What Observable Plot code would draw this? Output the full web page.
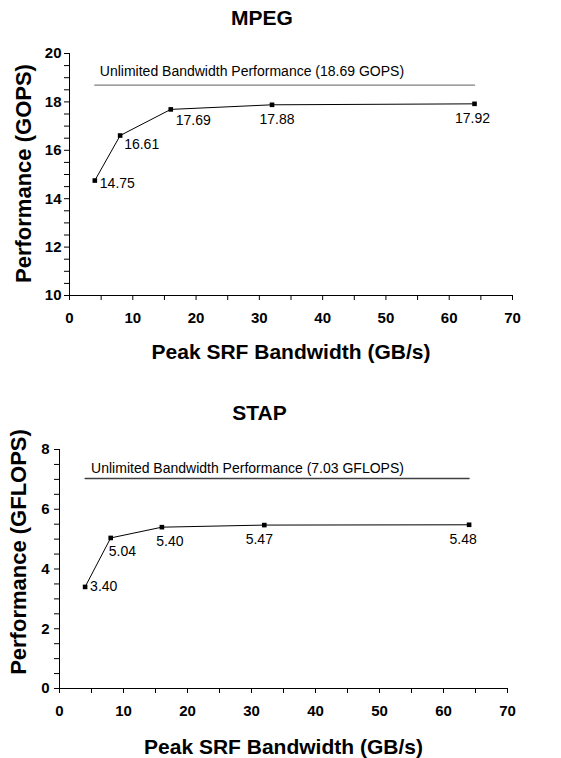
<!DOCTYPE html>
<html>
<head>
<meta charset="utf-8">
<script src="https://cdn.jsdelivr.net/npm/d3@7"></script>
<script src="https://cdn.jsdelivr.net/npm/@observablehq/plot@0.6"></script>
<style>
  html, body { margin: 0; padding: 0; background: #fff; }
  #root svg { display: block; }
</style>
</head>
<body>
<div id="root"></div>
<script>
// ---- data ----
const bandwidth = [4, 8, 16, 32, 64];
const mpegPerf = [14.75, 16.61, 17.69, 17.88, 17.92];
const mpegLabels = ["14.75", "16.61", "17.69", "17.88", "17.92"];
const stapPerf = [3.40, 5.04, 5.40, 5.47, 5.48];
const stapLabels = ["3.40", "5.04", "5.40", "5.47", "5.48"];
const mpegUnlimited = 18.69;
const stapUnlimited = 7.03;
const mpegUnlimitedText = "Unlimited Bandwidth Performance (18.69 GOPS)";
const stapUnlimitedText = "Unlimited Bandwidth Performance (7.03 GFLOPS)";
const xTickLabels = [0, 10, 20, 30, 40, 50, 60, 70];
const mpegYTickLabels = [10, 12, 14, 16, 18, 20];
const stapYTickLabels = [0, 2, 4, 6, 8];
const xTitle = "Peak SRF Bandwidth (GB/s)";

const FONT = "'Liberation Sans', Arial, Helvetica, sans-serif";

function chart(cfg) {
  const pts = bandwidth.map((b, i) => ({x: b, y: cfg.perf[i], label: cfg.labels[i], i}));
  const yLo = cfg.yTicks[0], yHi = cfg.yTicks[cfg.yTicks.length - 1];
  const xMinor = d3.range(0, 70.001, 5);
  const yMinor = d3.range(yLo, yHi + 0.001, 0.5);
  const unl = [bandwidth[0], bandwidth[bandwidth.length - 1]].map(x => ({x, y: cfg.unlimited}));
  const labelMarks = cfg.labelOffsets.map((o, i) =>
    Plot.text(pts.filter(d => d.i === i), {x: "x", y: "y", text: "label",
      textAnchor: o[0], dx: o[1], dy: o[2], fontSize: 14, fill: "#000"}));
  return Plot.plot({
    width: 561,
    height: cfg.height,
    marginLeft: cfg.ml, marginRight: cfg.mr, marginTop: cfg.mt, marginBottom: cfg.mb,
    style: {fontFamily: FONT, background: "#fff", color: "#000"},
    x: {domain: [0, 70]},
    y: {domain: [yLo, yHi]},
    marks: [
      Plot.axisX({ticks: xMinor, tickSize: 5, tickPadding: 12, fontSize: 15, fontWeight: "bold",
        tickFormat: d => xTickLabels.includes(d) ? String(d) : "", label: null}),
      Plot.axisY({ticks: yMinor, tickSize: 5, tickPadding: cfg.yPad, fontSize: 15, fontWeight: "bold",
        tickFormat: d => cfg.yTicks.includes(d) ? String(d) : "", label: null}),
      Plot.ruleX([0], {stroke: "#000", strokeWidth: 1}),
      Plot.ruleY([yLo], {stroke: "#000", strokeWidth: 1}),
      Plot.line(unl, {x: "x", y: "y", stroke: cfg.unlColor, strokeWidth: 1.3}),
      Plot.text([cfg.unlText], {x: bandwidth[0], y: cfg.unlimited, text: d => d, textAnchor: "start",
        dx: cfg.unlDx, dy: cfg.unlDy, fontSize: 14, fill: "#000"}),
      Plot.line(pts, {x: "x", y: "y", stroke: "#000", strokeWidth: 1}),
      Plot.dot(pts, {x: "x", y: "y", symbol: "square", r: 2.6, fill: "#000", stroke: "none"}),
      ...labelMarks,
      Plot.text([cfg.title], {frameAnchor: "top", text: d => d, dx: cfg.titleDx, dy: cfg.titleDy,
        textAnchor: "middle", lineAnchor: "middle",
        fontSize: 21, fontWeight: "bold", fill: "#000"}),
      Plot.text([xTitle], {frameAnchor: "bottom", text: d => d, dy: cfg.xtDy,
        textAnchor: "middle", lineAnchor: "middle",
        fontSize: 21, fontWeight: "bold", fill: "#000"}),
      Plot.text([cfg.yTitle], {frameAnchor: "left", text: d => d, rotate: -90, dx: cfg.ytDx, dy: cfg.ytDy,
        textAnchor: "middle", lineAnchor: "middle",
        fontSize: 22, fontWeight: "bold", fill: "#000"})
    ]
  });
}

const root = document.getElementById("root");
root.appendChild(chart({
  title: "MPEG", yTitle: "Performance (GOPS)",
  perf: mpegPerf, labels: mpegLabels, yTicks: mpegYTickLabels,
  unlimited: mpegUnlimited, unlText: mpegUnlimitedText, unlColor: "#808080",
  height: 379, ml: 69, mr: 49, mt: 53, mb: 84, yPad: 3,
  titleDx: -29, titleDy: -35, xtDy: 57, ytDx: -46, ytDy: -1,
  unlDx: 5, unlDy: -14,
  labelOffsets: [["start", 5, 3], ["start", 4, 9], ["start", 5, 11], ["middle", 5, 15], ["middle", -2, 15]]
}));
root.appendChild(chart({
  title: "STAP", yTitle: "Performance (GFLOPS)",
  perf: stapPerf, labels: stapLabels, yTicks: stapYTickLabels,
  unlimited: stapUnlimited, unlText: stapUnlimitedText, unlColor: "#404040",
  height: 379, ml: 59, mr: 54, mt: 70, mb: 70, yPad: 5,
  titleDx: -24, titleDy: -36, xtDy: 59, ytDx: -41, ytDy: -17,
  unlDx: 6, unlDy: -10,
  labelOffsets: [["start", 5, 0], ["start", -2, 14], ["middle", 8, 14], ["middle", -5, 14], ["middle", -6, 15]]
}));
</script>
</body>
</html>
